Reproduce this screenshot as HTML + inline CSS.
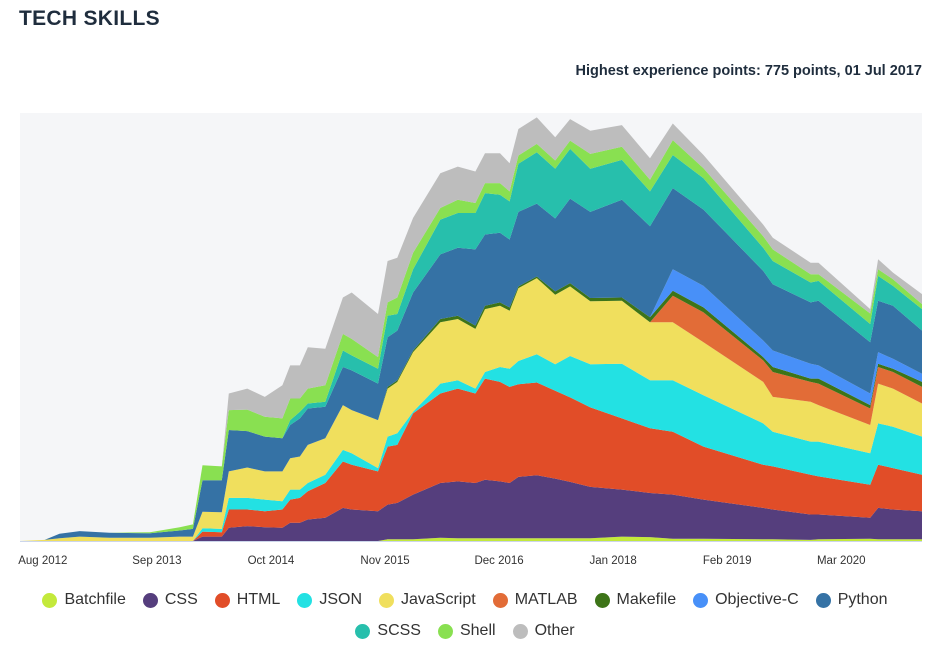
<!DOCTYPE html>
<html><head><meta charset="utf-8"><style>
body{margin:0;width:930px;height:645px;background:#fff;font-family:"Liberation Sans",sans-serif;overflow:hidden;position:relative}
#title{position:absolute;left:19px;top:7px;font-size:21px;font-weight:bold;color:#1f2d3d;letter-spacing:0.3px}
#sub{position:absolute;right:8px;top:63px;font-size:14.5px;font-weight:bold;color:#1f2d3d}
.legend{position:absolute;left:0;width:930px;display:flex;justify-content:center;gap:17px;font-size:16px;color:#333}
.li{display:flex;align-items:center;gap:7px}
.dot{width:15px;height:15px;border-radius:50%}
</style></head><body>
<div id="title">TECH SKILLS</div>
<div id="sub">Highest experience points: 775 points, 01 Jul 2017</div>
<svg id="chart" width="930" height="580" style="position:absolute;left:0;top:0"></svg>
<div class="legend" id="leg1" style="top:591px"></div>
<div class="legend" id="leg2" style="top:622px"></div>
<script>
const months=[-2.6,0.2,1.9,4.2,7.6,12.2,15.6,17.1,18.2,20.4,21.2,23.3,25.3,27.3,28.2,29.3,30.2,32.2,34.2,35.2,38.2,39.3,40.4,42.2,45.3,47.3,49.3,50.4,52.1,53.2,54.2,56.3,58.4,60.1,62.4,66.0,69.2,71.8,75.3,82.1,83.2,87.5,88.4,94.3,95.2,96.9,100.2];
const seriesNames=["Batchfile","CSS","HTML","JSON","JavaScript","MATLAB","Makefile","Objective-C","Python","SCSS","Shell","Other"];
const batchfile=[0,0,0,0,0,0,0,0,0,0,0,0,0,0,0,0,0,0,0,0,0,3,3,3,6,5,5,5,5,5,5,5,5,5,5,8,7,4,4,3,3,2,3,4,3,3,3];
const css=[0,0,0,0,0,0,0,0,8,8,24,27,25,24,33,33,39,42,60,57,54,63,66,81,99,103,100,106,103,100,111,114,108,102,93,85,80,80,71,57,54,46,45,38,57,54,51];
const html=[0,0,0,0,0,0,0,0,9,8,33,30,29,33,42,45,51,63,84,81,72,105,105,147,162,168,162,183,180,174,168,168,159,153,144,129,117,114,96,78,78,72,69,60,78,75,66];
const json=[0,0,0,0,0,0,0,0,6,6,21,21,21,15,18,15,15,15,21,21,6,18,21,3,18,15,9,12,27,33,42,51,48,75,78,99,87,93,93,75,63,60,63,57,75,75,69];
const javascript=[0,2,5,8,6,6,8,8,30,30,48,55,51,54,57,60,69,66,81,78,87,87,93,108,111,111,108,114,111,105,132,138,126,126,114,114,105,105,96,75,63,72,66,51,72,69,60];
const matlab=[0,0,0,0,0,0,0,0,0,0,0,0,0,0,0,0,0,0,0,0,0,0,0,0,0,0,0,0,0,0,0,0,0,0,0,0,0,48,54,39,45,36,39,30,30,30,30];
const makefile=[0,0,0,0,0,0,0,0,0,0,0,0,0,0,0,0,0,0,0,0,0,3,3,3,6,6,6,6,6,6,3,3,6,6,6,6,9,9,9,6,9,6,9,6,6,6,9];
const objectivec=[0,0,0,0,0,0,0,0,0,0,0,0,0,0,0,0,0,0,0,0,0,0,0,0,0,0,0,0,0,0,0,0,0,0,0,0,0,39,39,30,30,27,24,21,21,18,15];
const python=[0,0,8,10,9,8,11,14,57,58,75,66,63,60,60,69,66,57,69,72,66,90,90,105,117,123,138,129,126,123,135,132,132,153,156,177,165,147,138,126,120,111,117,93,93,96,78];
const scss=[0,0,0,0,0,0,0,0,0,0,0,0,0,0,9,12,9,9,30,27,27,39,30,42,63,63,66,75,69,69,87,93,90,90,78,72,63,60,57,42,42,36,36,33,45,36,39];
const shell=[0,0,0,0,0,2,6,8,27,25,36,39,36,36,39,24,27,30,30,30,21,24,30,30,21,24,18,18,21,18,15,15,15,15,27,24,21,27,18,21,21,15,12,19,12,12,9];
const other=[0,0,0,0,0,0,0,0,0,0,30,38,36,60,60,60,75,66,66,84,78,75,72,63,63,60,57,54,54,51,48,48,42,39,42,39,39,30,24,21,21,21,21,8,18,12,18];
const xTicks=[0,13,26,39,52,65,78,91];
const xTickLabels=["Aug 2012","Sep 2013","Oct 2014","Nov 2015","Dec 2016","Jan 2018","Feb 2019","Mar 2020"];
const colors=["#c3e93b","#553e7d","#e14d28","#23e1e3","#f0df5d","#e26c37","#3d7418","#4890f8","#3572a5","#27bfac","#89e051","#bdbdbd"];
const allSeries=[batchfile,css,html,json,javascript,matlab,makefile,objectivec,python,scss,shell,other];

const X0=20,X1=922,Y0=541,Y1=113,MMIN=-2.6,MMAX=100.2,VMAX=775;
const xs=m=>X0+(m-MMIN)/(MMAX-MMIN)*(X1-X0);
const ys=v=>Y0-v/VMAX*(Y0-Y1);
const NS="http://www.w3.org/2000/svg";
const svg=document.getElementById('chart');
const bg=document.createElementNS(NS,'rect');
bg.setAttribute('x',X0);bg.setAttribute('y',Y1);bg.setAttribute('width',X1-X0);bg.setAttribute('height',Y0-Y1);bg.setAttribute('fill','#f5f6f8');


svg.appendChild(bg);
let base=months.map(()=>0);
allSeries.forEach((s,i)=>{
  const top=base.map((b,j)=>b+s[j]);
  let d='M'+months.map((m,j)=>xs(m).toFixed(1)+','+ys(top[j]).toFixed(1)).join('L');
  for(let j=months.length-1;j>=0;j--) d+='L'+xs(months[j]).toFixed(1)+','+ys(base[j]).toFixed(1);
  d+='Z';
  const p=document.createElementNS(NS,'path');
  p.setAttribute('d',d);p.setAttribute('fill',colors[i]);
  
  
  svg.appendChild(p);
  base=top;
});
const ax=document.createElementNS(NS,'line');
ax.setAttribute('x1',X0);ax.setAttribute('x2',X1);ax.setAttribute('y1',Y0+0.5);ax.setAttribute('y2',Y0+0.5);ax.setAttribute('stroke','#ccd6eb');


svg.appendChild(ax);
xTicks.forEach((m,i)=>{
  const t=document.createElementNS(NS,'text');
  t.setAttribute('x',xs(m));t.setAttribute('y',564);t.setAttribute('text-anchor','middle');
  t.setAttribute('font-size','11.5');t.setAttribute('fill','#333');t.setAttribute('font-family','Liberation Sans, sans-serif');
  t.textContent=xTickLabels[i];
  
  
  svg.appendChild(t);
});
seriesNames.forEach((n,i)=>{
  const it=document.createElement('div');it.className='li';
  
  
  it.innerHTML='<span class="dot" style="background:'+colors[i]+'"></span><span>'+n+'</span>';
  document.getElementById(i<9?'leg1':'leg2').appendChild(it);
});
</script>
</body></html>
